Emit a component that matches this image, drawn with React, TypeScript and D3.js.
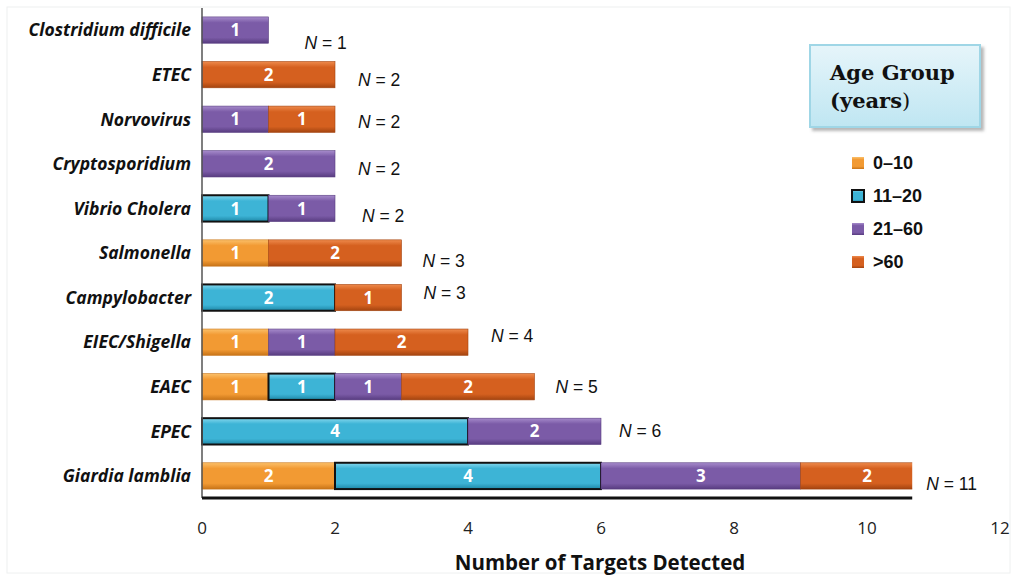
import React from "react";
import * as d3 from "d3";

const categories = [
  "Clostridium difficile",
  "ETEC",
  "Norvovirus",
  "Cryptosporidium",
  "Vibrio Cholera",
  "Salmonella",
  "Campylobacter",
  "EIEC/Shigella",
  "EAEC",
  "EPEC",
  "Giardia lamblia",
];
const ageGroups = ["0–10", "11–20", "21–60", ">60"];
const age0to10 = [0, 0, 0, 0, 0, 1, 0, 1, 1, 0, 2];
const age11to20 = [0, 0, 0, 0, 1, 0, 2, 0, 1, 4, 4];
const age21to60 = [1, 0, 1, 2, 1, 0, 0, 1, 1, 2, 3];
const ageOver60 = [0, 2, 1, 0, 0, 2, 1, 2, 2, 0, 2];
const totals = [1, 2, 2, 2, 2, 3, 3, 4, 5, 6, 11];
const xTicks = [0, 2, 4, 6, 8, 10, 12];
const plotLimit = 10.68; // visible extent of the plot area in data units

// label nudges (px) for the "N = " annotations
const nLabelDx = [36, 23, 23, 23, 27, 21, 22, 23, 21, 18, 14];
const nLabelDy = [13, 5, 2, 5, 7, 8, -5, -6, 0, -1, 8];

const seriesValues = [age0to10, age11to20, age21to60, ageOver60];
const palette = [
  { light: "#FBC06A", base: "#F29A33", dark: "#C87418" },
  { light: "#86D8EE", base: "#3DB4D6", dark: "#1E87A6" },
  { light: "#A68BCB", base: "#7B5BA7", dark: "#583C80" },
  { light: "#EE8A4C", base: "#D5601F", dark: "#A34410" },
];

export default function App() {
  const W = 1017;
  const H = 580;
  const left = 202;
  const top = 8;
  const bottom = 498;
  const x = d3.scaleLinear().domain([0, 12]).range([left, 1000]);
  const y = d3.scaleBand<string>().domain(categories).range([top, bottom]).paddingInner(0.41).paddingOuter(0.2);

  const stackData = categories.map((c, i) => {
    const row: any = { cat: c };
    ageGroups.forEach((g, k) => (row[g] = seriesValues[k][i]));
    return row;
  });
  const stacked = d3.stack<any>().keys(ageGroups)(stackData);

  const sans = "'Open Sans', 'Liberation Sans', Arial, sans-serif";
  const arial = "'Liberation Sans', Arial, sans-serif";

  return (
    <svg width={W} height={H} style={{ position: "absolute", left: 0, top: 0, background: "#fff" }}>
      <defs>
        {palette.map((p, k) => (
          <linearGradient key={k} id={`g${k}`} x1="0" y1="0" x2="0" y2="1">
            <stop offset="0%" stopColor={p.light} />
            <stop offset="22%" stopColor={p.base} />
            <stop offset="78%" stopColor={p.base} />
            <stop offset="100%" stopColor={p.dark} />
          </linearGradient>
        ))}
        <linearGradient id="legendBg" x1="0" y1="0" x2="0" y2="1">
          <stop offset="0%" stopColor="#E6F5FA" />
          <stop offset="100%" stopColor="#BFE6F2" />
        </linearGradient>
        <clipPath id="plotClip">
          <rect x={left - 3} y={0} width={x(plotLimit) - left + 3} height={H} />
        </clipPath>
        <filter id="shadow" x="-10%" y="-10%" width="130%" height="140%">
          <feDropShadow dx="3" dy="3" stdDeviation="1.5" floodColor="#888" floodOpacity="0.6" />
        </filter>
      </defs>

      <rect x={7} y={7} width={W - 14} height={H - 14} fill="none" stroke="#eef0f0" strokeWidth={1} />

      {/* bars */}
      <g clipPath="url(#plotClip)">
        {stacked.map((layer, k) =>
          layer.map((d, i) => {
            const v = d[1] - d[0];
            if (v <= 0) return null;
            const x0 = x(d[0]);
            const x1 = x(d[1]);
            const yy = y(categories[i])!;
            const h = y.bandwidth();
            return (
              <g key={`${k}-${i}`}>
                <rect
                  x={x0}
                  y={yy}
                  width={x1 - x0}
                  height={h}
                  fill={`url(#g${k})`}
                  stroke={k === 1 ? "#111" : palette[k].dark}
                  strokeWidth={k === 1 ? 2 : 0.6}
                />
                <text
                  x={(x0 + x1) / 2}
                  y={yy + h / 2}
                  dy="0.36em"
                  textAnchor="middle"
                  fill="#fff"
                  fontFamily={sans}
                  fontWeight={700}
                  fontSize={17}
                >
                  {v}
                </text>
              </g>
            );
          })
        )}
      </g>

      {/* axes */}
      <line x1={left} x2={left} y1={top} y2={bottom} stroke="#555" strokeWidth={1.5} />
      <line x1={left} x2={x(plotLimit)} y1={bottom} y2={bottom} stroke="#111" strokeWidth={3} />

      {xTicks.map((t) => (
        <text key={t} x={x(t)} y={534} textAnchor="middle" fontFamily={sans} fontSize={17} fill="#222">
          {t}
        </text>
      ))}
      <text x={600} y={570} textAnchor="middle" fontFamily={sans} fontWeight={700} fontSize={20.5} fill="#111">
        Number of Targets Detected
      </text>

      {/* category labels */}
      {categories.map((c) => (
        <text
          key={c}
          x={191}
          y={y(c)! + y.bandwidth() / 2}
          dy="0.36em"
          textAnchor="end"
          fontFamily={sans}
          fontStyle="italic"
          fontWeight={700}
          fontSize={17.5}
          fill="#111"
        >
          {c}
        </text>
      ))}

      {/* N labels */}
      {categories.map((c, i) => (
        <text
          key={`n-${c}`}
          x={x(Math.min(totals[i], plotLimit)) + nLabelDx[i]}
          y={y(c)! + y.bandwidth() / 2 + nLabelDy[i]}
          dy="0.36em"
          fontFamily={arial}
          fontSize={17.5}
          fill="#111"
        >
          <tspan fontStyle="italic">N</tspan> = {totals[i]}
        </text>
      ))}

      {/* legend */}
      <rect x={810} y={45} width={170} height={82} fill="url(#legendBg)" stroke="#9FD6E6" strokeWidth={2} filter="url(#shadow)" />
      <text x={830} y={80} fontFamily="'DejaVu Serif', 'Liberation Serif', serif" fontWeight={700} fontSize={21} fill="#111">
        Age Group
      </text>
      <text x={830} y={108} fontFamily="'DejaVu Serif', 'Liberation Serif', serif" fontSize={21} fill="#111">
        <tspan fontWeight={700}>(years</tspan>)
      </text>
      {ageGroups.map((g, k) => {
        const ly = 163 + k * 33;
        return (
          <g key={g}>
            <rect
              x={852}
              y={ly - 6}
              width={12}
              height={12}
              fill={`url(#g${k})`}
              stroke={k === 1 ? "#111" : "none"}
              strokeWidth={k === 1 ? 2 : 0}
            />
            <text x={873} y={ly} dy="0.36em" fontFamily={arial} fontWeight={700} fontSize={18} fill="#111">
              {g}
            </text>
          </g>
        );
      })}
    </svg>
  );
}
